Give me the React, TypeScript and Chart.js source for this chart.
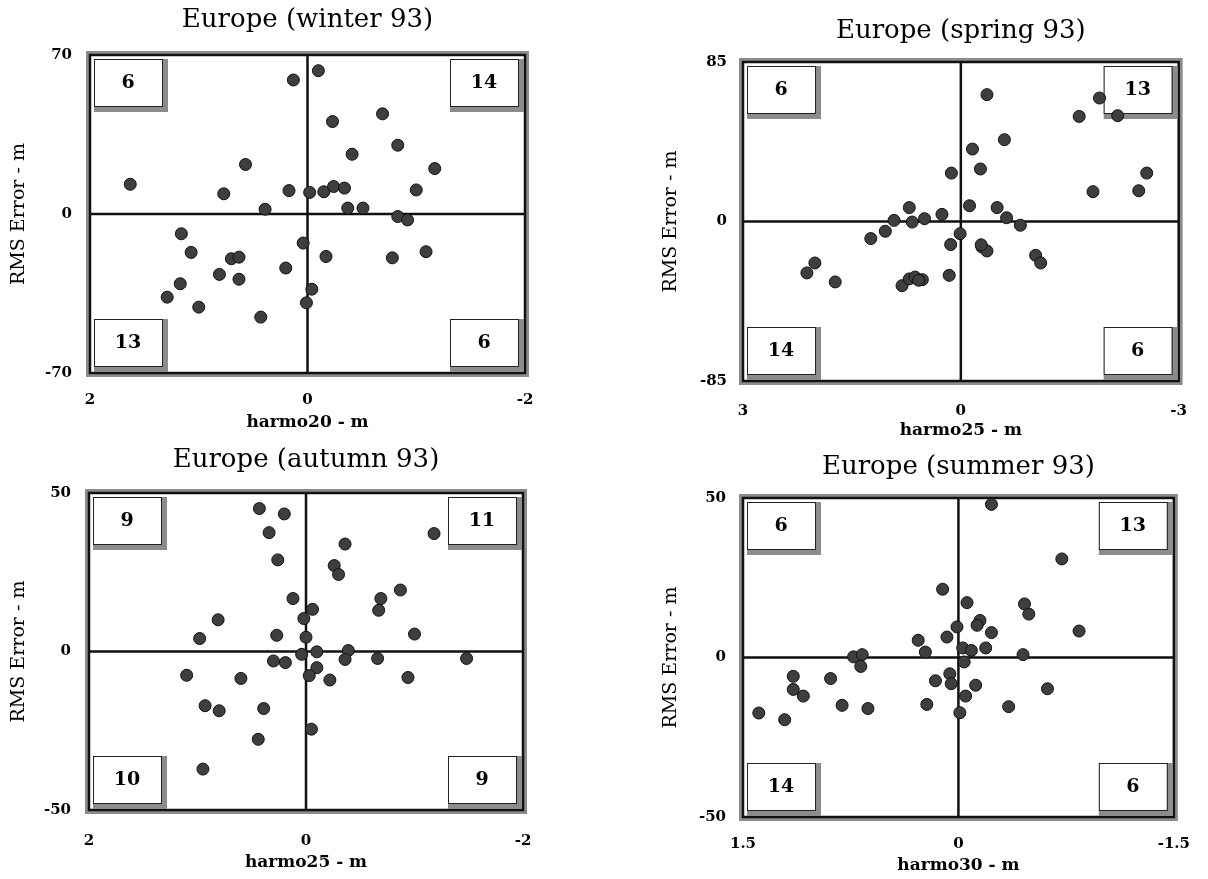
import React, { useEffect, useRef } from "react";
import { Chart, registerables } from "chart.js";

Chart.register(...registerables);

// ---------------- DATA ----------------
// Europe (winter 93): x = harmo20 (m), y = RMS Error (m)
const winterX = [0.13, -0.10, -0.69, -0.23, -0.83, -0.41, -1.17, 0.57, 1.63, 0.77, 0.17, -0.02, -0.15, -0.24, -0.34, -1.00, 0.39, -0.37, -0.51, -0.83, -0.92, 1.16, 1.07, 0.70, 0.63, 0.81, 0.63, 1.17, 1.29, 1.00, 0.43, 0.20, 0.04, 0.01, -0.04, -0.17, -0.78, -1.09];
const winterY = [59.0, 63.1, 44.1, 40.7, 30.3, 26.3, 20.0, 21.8, 13.1, 8.9, 10.3, 9.5, 9.8, 12.1, 11.4, 10.6, 2.1, 2.6, 2.6, -1.1, -2.6, -8.7, -16.9, -19.7, -19.0, -26.6, -28.7, -30.7, -36.6, -41.0, -45.4, -23.8, -12.8, -39.1, -33.1, -18.7, -19.3, -16.6];
const winterCounts = [6, 14, 13, 6];

// Europe (spring 93): x = harmo25 (m)
const springX = [-0.36, -1.91, -1.63, -2.16, -0.60, -0.16, -0.27, 0.13, -2.56, -1.82, -2.45, -0.12, -0.50, -0.63, -0.82, 0.71, 0.92, 0.67, 0.50, 0.26, 1.04, 1.24, 2.01, 2.12, 1.73, 0.81, 0.71, 0.63, 0.53, 0.14, 0.16, 0.01, 0.58, -0.29, -0.36, -1.03, -1.10, -0.28];
const springY = [67.6, 65.8, 56.0, 56.4, 43.6, 38.6, 28.0, 25.8, 25.8, 15.9, 16.4, 8.4, 7.4, 2.0, -2.0, 7.4, 0.6, -0.3, 1.5, 3.8, -5.2, -9.1, -22.1, -27.4, -32.2, -34.2, -30.6, -29.6, -31.0, -12.3, -28.7, -6.5, -31.3, -13.6, -15.7, -18.0, -22.1, -12.4];
const springCounts = [6, 13, 14, 6];

// Europe (autumn 93): x = harmo25 (m)
const autumnX = [0.43, 0.20, 0.34, 0.26, 0.12, 0.81, 0.98, 0.27, 0.02, 0.00, -1.18, -0.36, -0.26, -0.30, -0.87, -0.69, -0.67, -0.06, -1.00, 0.04, -0.10, -0.39, -0.36, -0.66, -1.48, 0.30, 0.19, 1.10, 0.60, -0.10, -0.03, -0.22, -0.94, 0.93, 0.80, 0.39, 0.44, 0.95, -0.05];
const autumnY = [45.1, 43.4, 37.5, 28.9, 16.7, 10.0, 4.1, 5.1, 10.4, 4.5, 37.2, 33.9, 27.1, 24.3, 19.4, 16.7, 13.0, 13.3, 5.5, -0.9, -0.1, 0.3, -2.5, -2.2, -2.2, -3.0, -3.5, -7.5, -8.5, -5.1, -7.6, -9.0, -8.2, -17.1, -18.7, -18.0, -27.7, -37.1, -24.5];
const autumnCounts = [9, 11, 10, 9];

// Europe (summer 93): x = harmo30 (m)
const summerX = [-0.23, -0.72, 0.11, -0.06, -0.46, -0.49, -0.15, -0.13, 0.01, -0.23, -0.84, 0.08, 0.28, -0.19, -0.03, -0.09, 0.23, -0.45, 0.73, 0.67, 0.68, 1.15, 0.89, 1.15, 1.08, 1.39, 1.21, 0.81, 0.63, 0.22, 0.16, 0.06, 0.05, -0.01, -0.04, -0.05, -0.12, -0.35, -0.62];
const summerY = [48.0, 30.9, 21.4, 17.2, 16.8, 13.6, 11.6, 10.1, 9.6, 7.8, 8.3, 6.4, 5.4, 3.0, 3.0, 2.2, 1.7, 0.9, 0.2, 0.9, -2.8, -5.9, -6.6, -10.0, -12.1, -17.4, -19.5, -15.0, -16.0, -14.7, -7.3, -5.1, -8.2, -17.3, -1.4, -12.1, -8.7, -15.4, -9.8];
const summerCounts = [6, 13, 14, 6];

// axis ticks (x axis is reversed: positive values on the left)
const winterXTicks = [2, 0, -2];
const winterYTicks = [70, 0, -70];
const springXTicks = [3, 0, -3];
const springYTicks = [85, 0, -85];
const autumnXTicks = [2, 0, -2];
const autumnYTicks = [50, 0, -50];
const summerXTicks = [1.5, 0, -1.5];
const summerYTicks = [50, 0, -50];

const yAxisTitle = "RMS Error - m";

// ---------------- LAYOUT ----------------
type Panel = {
  title: string;
  xLabel: string;
  xs: number[];
  ys: number[];
  xTicks: number[];
  yTicks: number[];
  counts: number[];
  cx: number; cy: number; cw: number; ch: number;
  padL: number; yW: number; padT: number; padR: number; xH: number;
  yTitlePad: number; xTitlePadB: number; xTickPad: number; yTickPad: number;
  titleY: number;
};

const panels: Panel[] = [
  {
    title: "Europe (winter 93)", xLabel: "harmo20 - m", xs: winterX, ys: winterY,
    xTicks: winterXTicks, yTicks: winterYTicks, counts: winterCounts,
    cx: 0, cy: 0, cw: 604, ch: 445,
    padL: 0, yW: 90, padT: 55, padR: 79, xH: 72,
    yTitlePad: 8, xTitlePadB: 12, xTickPad: 18, yTickPad: 18, titleY: 20,
  },
  {
    title: "Europe (spring 93)", xLabel: "harmo25 - m", xs: springX, ys: springY,
    xTicks: springXTicks, yTicks: springYTicks, counts: springCounts,
    cx: 604, cy: 0, cw: 604, ch: 445,
    padL: 49, yW: 90, padT: 62, padR: 26, xH: 64,
    yTitlePad: 7, xTitlePadB: 4, xTickPad: 21, yTickPad: 16, titleY: 31,
  },
  {
    title: "Europe (autumn 93)", xLabel: "harmo25 - m", xs: autumnX, ys: autumnY,
    xTicks: autumnXTicks, yTicks: autumnYTicks, counts: autumnCounts,
    cx: 0, cy: 445, cw: 604, ch: 434,
    padL: 0, yW: 89, padT: 48, padR: 81, xH: 69,
    yTitlePad: 8, xTitlePadB: 6, xTickPad: 22, yTickPad: 18, titleY: 15,
  },
  {
    title: "Europe (summer 93)", xLabel: "harmo30 - m", xs: summerX, ys: summerY,
    xTicks: summerXTicks, yTicks: summerYTicks, counts: summerCounts,
    cx: 604, cy: 445, cw: 604, ch: 434,
    padL: 49, yW: 90, padT: 53, padR: 28, xH: 62,
    yTitlePad: 7, xTitlePadB: 3, xTickPad: 18, yTickPad: 17, titleY: 22,
  },
];

const SERIF = "'DejaVu Serif', 'Liberation Serif', serif";

function makeDecor(p: Panel) {
  return {
    id: "decor",
    beforeDatasetsDraw(chart: any) {
      const { ctx, chartArea, scales } = chart;
      const { left, top, right, bottom } = chartArea;
      ctx.save();
      // frame (grey shadowed border + black line)
      ctx.strokeStyle = "#8c8c8c";
      ctx.lineWidth = 4;
      ctx.strokeRect(left - 2, top - 2, right - left + 4, bottom - top + 4);
      ctx.strokeStyle = "#111";
      ctx.lineWidth = 2.5;
      ctx.strokeRect(left, top, right - left, bottom - top);
      // zero lines
      const x0 = scales.x.getPixelForValue(0);
      const y0 = scales.y.getPixelForValue(0);
      ctx.lineWidth = 2.5;
      ctx.beginPath();
      ctx.moveTo(x0, top);
      ctx.lineTo(x0, bottom);
      ctx.moveTo(left, y0);
      ctx.lineTo(right, y0);
      ctx.stroke();
      // quadrant count boxes
      const w = 68, h = 47, sh = 6;
      const spots = [
        [left + 4, top + 4],
        [right - w - sh - 1, top + 4],
        [left + 4, bottom - h - sh - 1],
        [right - w - sh - 1, bottom - h - sh - 1],
      ];
      spots.forEach(([bx, by], i) => {
        ctx.fillStyle = "#8c8c8c";
        ctx.fillRect(bx, by, w + sh, h + sh);
        ctx.fillStyle = "#fff";
        ctx.fillRect(bx, by, w, h);
        ctx.strokeStyle = "#222";
        ctx.lineWidth = 1;
        ctx.strokeRect(bx + 0.5, by + 0.5, w, h);
        ctx.fillStyle = "#000";
        ctx.font = `bold 19px ${SERIF}`;
        ctx.textAlign = "center";
        ctx.textBaseline = "middle";
        ctx.fillText(String(p.counts[i]), bx + w / 2, by + h / 2 + 1);
      });
      ctx.restore();
    },
    afterDraw(chart: any) {
      const { ctx, chartArea } = chart;
      ctx.save();
      ctx.fillStyle = "#000";
      ctx.font = `26px ${SERIF}`;
      ctx.textAlign = "center";
      ctx.textBaseline = "middle";
      ctx.fillText(p.title, (chartArea.left + chartArea.right) / 2, p.titleY);
      ctx.restore();
    },
  };
}

function ScatterPanel({ p }: { p: Panel }) {
  const ref = useRef<HTMLCanvasElement | null>(null);
  useEffect(() => {
    if (!ref.current) return;
    const xMax = Math.max(...p.xTicks);
    const yMax = Math.max(...p.yTicks);
    const tickFont = { family: SERIF, size: 15, weight: "bold" as const };
    const chart = new Chart(ref.current, {
      type: "scatter",
      data: {
        datasets: [
          {
            data: p.xs.map((x, i) => ({ x, y: p.ys[i] })),
            pointRadius: 6,
            pointBackgroundColor: "#3e3e3e",
            pointBorderColor: "#111",
            pointBorderWidth: 1,
          },
        ],
      },
      options: {
        animation: false,
        responsive: false,
        maintainAspectRatio: false,
        layout: { padding: { left: p.padL, top: p.padT, right: p.padR, bottom: 0 } },
        plugins: { legend: { display: false }, tooltip: { enabled: false }, title: { display: false } },
        scales: {
          x: {
            type: "linear",
            reverse: true,
            min: -xMax,
            max: xMax,
            grid: { display: false, drawTicks: false },
            border: { display: false },
            afterBuildTicks: (s: any) => {
              s.ticks = p.xTicks.map((v) => ({ value: v }));
            },
            afterFit: (s: any) => {
              s.height = p.xH;
            },
            ticks: {
              font: tickFont,
              color: "#000",
              padding: p.xTickPad,
              maxRotation: 0,
              autoSkip: false,
              callback: (v: any) => String(v),
            },
            title: {
              display: true,
              text: p.xLabel,
              color: "#000",
              font: { family: SERIF, size: 17, weight: "bold" },
              padding: { top: 0, bottom: p.xTitlePadB },
            },
          },
          y: {
            type: "linear",
            min: -yMax,
            max: yMax,
            grid: { display: false, drawTicks: false },
            border: { display: false },
            afterBuildTicks: (s: any) => {
              s.ticks = p.yTicks.map((v) => ({ value: v }));
            },
            afterFit: (s: any) => {
              s.width = p.yW;
            },
            ticks: {
              font: tickFont,
              color: "#000",
              padding: p.yTickPad,
              autoSkip: false,
              callback: (v: any) => String(v),
            },
            title: {
              display: true,
              text: yAxisTitle,
              color: "#000",
              font: { family: SERIF, size: 19, weight: "normal" },
              padding: { top: p.yTitlePad, bottom: 0 },
            },
          },
        },
      } as any,
      plugins: [makeDecor(p)],
    });
    return () => chart.destroy();
  }, [p]);
  return (
    <canvas
      ref={ref}
      width={p.cw}
      height={p.ch}
      style={{ position: "absolute", left: p.cx, top: p.cy, width: p.cw, height: p.ch }}
    />
  );
}

export default function App() {
  return (
    <div style={{ position: "absolute", left: 0, top: 0, width: 1208, height: 879, background: "#fff" }}>
      {panels.map((p, i) => (
        <ScatterPanel key={i} p={p} />
      ))}
    </div>
  );
}
